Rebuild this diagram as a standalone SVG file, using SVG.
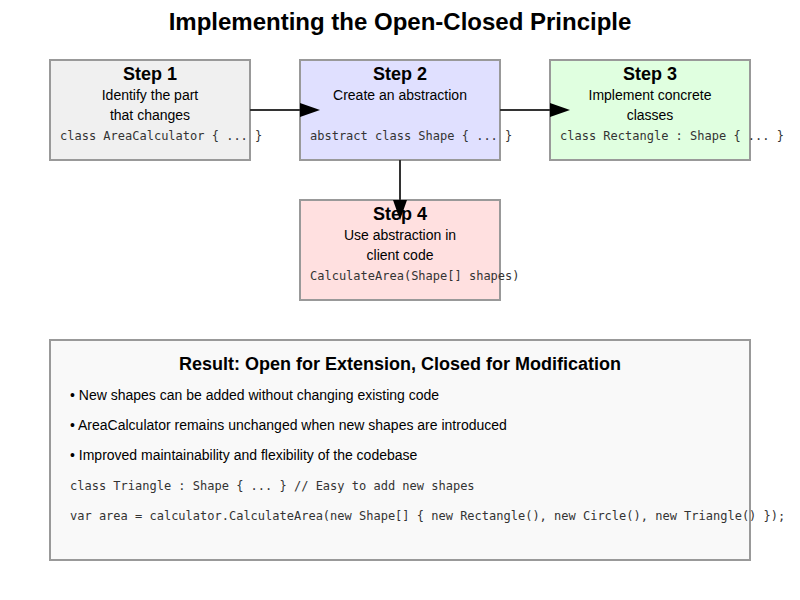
<svg xmlns="http://www.w3.org/2000/svg" width="800" height="600" viewBox="0 0 800 600">
<style>
.box{stroke:#999;stroke-width:2}
.t{font-family:"Liberation Sans",Arial,sans-serif;fill:#000}
.h{font-size:18px;font-weight:bold;text-anchor:middle}
.d{font-size:14px;text-anchor:middle}
.b{font-size:14px}
.c{font-family:"DejaVu Sans Mono",monospace;font-size:12px;fill:#333}
.conn{stroke:#333;stroke-width:2;fill:none}
</style>
<defs>
<marker id="arrow" markerWidth="10" markerHeight="7" refX="0" refY="3.5" orient="auto">
<polygon points="0 0, 10 3.5, 0 7" fill="#000"/>
</marker>
</defs>
<rect width="800" height="600" fill="#fff"/>
<text class="t" x="400" y="30" style="font-size:24px;font-weight:bold;text-anchor:middle">Implementing the Open-Closed Principle</text>
<g id="step1">
<rect class="box" x="50" y="60" width="200" height="100" fill="#f0f0f0"/>
<text class="t h" x="150" y="80">Step 1</text>
<text class="t d" x="150" y="100">Identify the part</text>
<text class="t d" x="150" y="120">that changes</text>
<text class="c" x="60" y="140">class AreaCalculator { ... }</text>
</g>
<g id="step2">
<rect class="box" x="300" y="60" width="200" height="100" fill="#e0e0ff"/>
<text class="t h" x="400" y="80">Step 2</text>
<text class="t d" x="400" y="100">Create an abstraction</text>
<text class="c" x="310" y="140">abstract class Shape { ... }</text>
</g>
<g id="step3">
<rect class="box" x="550" y="60" width="200" height="100" fill="#e0ffe0"/>
<text class="t h" x="650" y="80">Step 3</text>
<text class="t d" x="650" y="100">Implement concrete</text>
<text class="t d" x="650" y="120">classes</text>
<text class="c" x="560" y="140">class Rectangle : Shape { ... }</text>
</g>
<g id="step4">
<rect class="box" x="300" y="200" width="200" height="100" fill="#ffe0e0"/>
<text class="t h" x="400" y="220">Step 4</text>
<text class="t d" x="400" y="240">Use abstraction in</text>
<text class="t d" x="400" y="260">client code</text>
<text class="c" x="310" y="280">CalculateArea(Shape[] shapes)</text>
</g>
<g id="connectors">
<line class="conn" x1="250" y1="110" x2="300" y2="110" marker-end="url(#arrow)"/>
<line class="conn" x1="500" y1="110" x2="550" y2="110" marker-end="url(#arrow)"/>
<line class="conn" x1="400" y1="160" x2="400" y2="200" marker-end="url(#arrow)"/>
</g>
<g id="result">
<rect class="box" x="50" y="340" width="700" height="220" fill="#f9f9f9"/>
<text class="t h" x="400" y="370">Result: Open for Extension, Closed for Modification</text>
<text class="t b" x="70" y="400">• New shapes can be added without changing existing code</text>
<text class="t b" x="70" y="430">• AreaCalculator remains unchanged when new shapes are introduced</text>
<text class="t b" x="70" y="460">• Improved maintainability and flexibility of the codebase</text>
<text class="c" x="70" y="490">class Triangle : Shape { ... } // Easy to add new shapes</text>
<text class="c" x="70" y="520">var area = calculator.CalculateArea(new Shape[] { new Rectangle(), new Circle(), new Triangle() });</text>
</g>
</svg>
